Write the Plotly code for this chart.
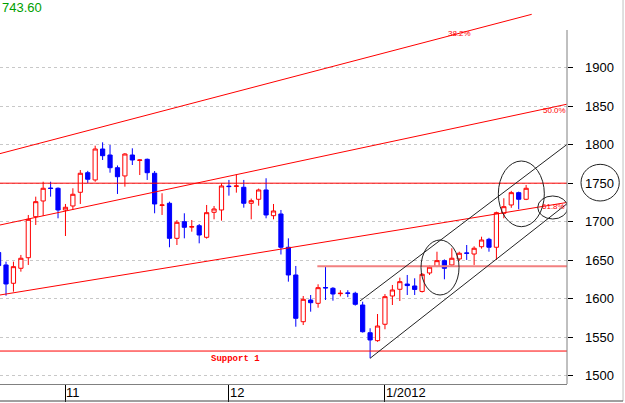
import plotly.graph_objects as go

# ---------------- data ----------------
idx = list(range(72))
opens = [1660, 1643.8, 1620, 1639.5, 1653.2, 1706.5, 1726.9, 1743.6, 1743.4, 1715.2,
         1720.4, 1738.2, 1763.6, 1754.2, 1794.4, 1786.6, 1770.1, 1759.4, 1786.6, 1779.6,
         1781, 1762.9, 1721.2, 1723.9, 1678.4, 1700, 1693, 1694.8, 1679.7, 1712.2,
         1715.2, 1746.2, 1745.9, 1744.7, 1723.9, 1729.1, 1741.2, 1707.8, 1710, 1666.8,
         1630.8, 1570.1, 1598.3, 1594, 1614.5, 1613.5, 1606.5, 1607.5, 1607, 1591.8,
         1555.8, 1545.5, 1566.8, 1603.5, 1612.2, 1619, 1616.5, 1609.4, 1633.4, 1642.1,
         1649.4, 1643.8, 1651.6, 1659.4, 1658, 1667.5, 1677.1, 1666.8, 1710.9, 1721.7,
         1737.7, 1729.1]
highs = [1665, 1648.1, 1648.1, 1656.8, 1708.7, 1732.5, 1751.9, 1751.9, 1744.5, 1723,
         1743.4, 1767.1, 1766, 1798.7, 1803.1, 1799.6, 1773, 1789, 1795.3, 1781,
         1782, 1765.8, 1736.9, 1726, 1702, 1710.9, 1702.2, 1697, 1721.7, 1720.4,
         1749.9, 1754.2, 1761.6, 1754.2, 1730, 1743, 1756.4, 1723, 1715.2, 1678.4,
         1642.5, 1603.5, 1604.8, 1618.7, 1641.6, 1615, 1611, 1611, 1609, 1596.1,
         1561.6, 1580.1, 1606, 1617.8, 1627.3, 1630.8, 1626.5, 1633, 1643, 1661,
         1651, 1665.5, 1661, 1669.7, 1668, 1680.5, 1679, 1713, 1730.4, 1740,
         1739, 1747.7]
lows = [1638, 1603.9, 1609.1, 1635.1, 1643.8, 1695.7, 1707.4, 1732.5, 1704.4, 1681.4,
        1715.2, 1723, 1750, 1751.9, 1780.1, 1763.6, 1736, 1745.5, 1773.6, 1760.6,
        1754.2, 1710.9, 1708.7, 1666.8, 1669.7, 1678.4, 1687, 1671.9, 1678, 1703.1,
        1701.3, 1733.8, 1737.7, 1718.2, 1703.1, 1720.8, 1704.4, 1703.1, 1657.4, 1622.1,
        1563.6, 1565.8, 1583.1, 1588.3, 1598.3, 1597.4, 1603, 1602, 1591, 1556,
        1522.6, 1544, 1560.3, 1591.8, 1597, 1604.8, 1604.8, 1608, 1630.8, 1641,
        1625.2, 1642, 1649, 1650.3, 1643.8, 1665, 1661, 1650.3, 1704.4, 1718,
        1716.1, 1728]
closes = [1643, 1619.1, 1641.6, 1652.5, 1703.1, 1726, 1743.4, 1743.2, 1715.2, 1718.7,
          1735.6, 1762.9, 1755.1, 1794.4, 1785.7, 1770.1, 1758.4, 1787.9, 1780.1, 1780.1,
          1763.6, 1723, 1721.7, 1678.4, 1699.2, 1692.7, 1693.5, 1682.7, 1711.7, 1716.5,
          1746.4, 1745.6, 1746.4, 1723.9, 1727.3, 1741.2, 1708.7, 1713.9, 1666.8, 1630.8,
          1574.5, 1599.2, 1594.8, 1614.3, 1614.0, 1606.1, 1607, 1607, 1592.7, 1557.1,
          1546.4, 1564.5, 1602.6, 1611.3, 1622.1, 1617, 1612, 1631.7, 1640.9, 1649.4,
          1639.5, 1652.5, 1659, 1659.0, 1665.5, 1676.2, 1666.8, 1711.7, 1719.5, 1737.7,
          1729.1, 1743.4]

month_tick_idx = [9, 31, 52]
month_tick_text = ["11", "12", "1/2012"]
y_ticks = [1500, 1550, 1600, 1650, 1700, 1750, 1800, 1850, 1900]
y_tick_text = ["1500", "1550", "1600", "1650", "1700", "1750", "1800", "1850", "1900"]

# fibonacci fan lines: (x0, y0, x1, y1) in index / price units
fib_names = ["38.2%", "50.0%", "61.8%"]
fib_x0 = [0.19, 0.19, 0.19]
fib_y0 = [1788.4, 1695.7, 1604.8]
fib_x1 = [71.75, 76.46, 76.46]
fib_y1 = [1969.3, 1852.5, 1724.9]
fib_label_x = [61.97, 74.76, 74.71]
fib_label_y = [1943.8, 1845.0, 1719.1]

resist_level = 1750
mid_level = 1642
mid_level_start = 42.9
support_level = 1532
support_label = "Support 1"

chan_up = (48.64, 1597.0, 76.46, 1800.0)
chan_lo = (50.0, 1522.6, 76.46, 1723.0)

ellipses = [(56.85, 1604.8, 61.97, 1676.2),
            (67.26, 1693.5, 73.45, 1778.8),
            (72.56, 1703.5, 76.6, 1733.4)]

last_price = "743.60"

X_RANGE = [0.19, 76.5]
Y_RANGE = [1489.2, 1987.9]

# ---------------- figure ----------------
fig = go.Figure()
fig.add_trace(go.Candlestick(
    x=idx, open=opens, high=highs, low=lows, close=closes,
    increasing=dict(line=dict(color="#ff0000", width=1), fillcolor="#ffffff"),
    decreasing=dict(line=dict(color="#0000ff", width=1), fillcolor="#0000ff"),
    whiskerwidth=0, showlegend=False, hoverinfo="skip"))

shapes = []
for x0, y0, x1, y1 in zip(fib_x0, fib_y0, fib_x1, fib_y1):
    shapes.append(dict(type="line", xref="x", yref="y", x0=x0, y0=y0, x1=x1, y1=y1,
                       line=dict(color="#ff0000", width=1)))
shapes.append(dict(type="line", xref="x", yref="y", x0=X_RANGE[0], x1=X_RANGE[1],
                   y0=resist_level, y1=resist_level, line=dict(color="#ff0000", width=1)))
shapes.append(dict(type="line", xref="x", yref="y", x0=mid_level_start, x1=X_RANGE[1],
                   y0=mid_level, y1=mid_level, line=dict(color="#f28080", width=2)))
shapes.append(dict(type="line", xref="x", yref="y", x0=X_RANGE[0], x1=X_RANGE[1],
                   y0=support_level, y1=support_level, line=dict(color="#ff0000", width=1)))
for c in (chan_up, chan_lo):
    shapes.append(dict(type="line", xref="x", yref="y", x0=c[0], y0=c[1], x1=c[2], y1=c[3],
                       line=dict(color="#222222", width=1)))
for e in ellipses:
    shapes.append(dict(type="circle", xref="x", yref="y", x0=e[0], y0=e[1], x1=e[2], y1=e[3],
                       line=dict(color="#222222", width=1)))
# circle around 1750 axis label
shapes.append(dict(type="circle", xref="paper", yref="paper", x0=1.0247, x1=1.0922,
                   y0=0.4766, y1=0.5721, line=dict(color="#222222", width=1)))
# right axis line (starts below top)
shapes.append(dict(type="line", xref="paper", yref="paper", x0=1, x1=1, y0=0, y1=0.9219,
                   line=dict(color="#808080", width=1)))
# outer frame: right and bottom
shapes.append(dict(type="line", xref="paper", yref="paper", x0=1.0988, x1=1.0988, y0=-0.0443, y1=1.0,
                   line=dict(color="#c0c0c0", width=1)))
shapes.append(dict(type="line", xref="paper", yref="paper", x0=0, x1=1.0988, y0=-0.0443, y1=-0.0443,
                   line=dict(color="#404040", width=1)))

annotations = []
for name, lx, ly in zip(fib_names, fib_label_x, fib_label_y):
    annotations.append(dict(x=lx, y=ly, xref="x", yref="y", text=name, showarrow=False,
                            font=dict(family="Liberation Sans", size=8, color="#ff0000")))
annotations.append(dict(x=31.86, y=1521.3, xref="x", yref="y", text=support_label,
                        showarrow=False,
                        font=dict(family="Liberation Mono", size=9, color="#ff0000", weight="bold")))
annotations.append(dict(x=0, y=1, xref="paper", yref="paper", xanchor="left", yanchor="top",
                        text=last_price, showarrow=False, xshift=0, yshift=2,
                        font=dict(family="Liberation Sans", size=13, color="#00a000")))
for tx, tt in zip(month_tick_idx, month_tick_text):
    annotations.append(dict(x=tx, y=-0.0221, xref="x", yref="paper", xanchor="left",
                            yanchor="middle", text=tt, showarrow=False, xshift=-1,
                            font=dict(family="Liberation Sans", size=13, color="#000000")))
for tv, tt in zip(y_ticks, y_tick_text):
    annotations.append(dict(x=1.0, y=tv, xref="paper", yref="y", xanchor="left",
                            yanchor="middle", text=tt, showarrow=False, xshift=16,
                            font=dict(family="Liberation Sans", size=13, color="#000000")))

fig.update_layout(
    width=625, height=403,
    margin=dict(l=0, r=58, t=0, b=19),
    paper_bgcolor="#ffffff", plot_bgcolor="#ffffff",
    showlegend=False, boxgap=0.19,
    shapes=shapes, annotations=annotations,
    xaxis=dict(range=X_RANGE, rangeslider=dict(visible=False), showgrid=False, zeroline=False,
               showline=True, linecolor="#808080", linewidth=1,
               tickmode="array", tickvals=month_tick_idx, ticktext=["" for _ in month_tick_idx],
               ticks="outside", ticklen=17, tickcolor="#000000", tickwidth=1,
               showticklabels=False),
    yaxis=dict(range=Y_RANGE, side="right", showgrid=True, gridcolor="#c8c8c8",
               griddash="3px,3px", gridwidth=1, zeroline=False, showline=False,
               tickmode="array", tickvals=y_ticks,
               ticks="outside", ticklen=5, tickcolor="#000000", tickwidth=1,
               showticklabels=False),
)

fig.write_html("out.html")
